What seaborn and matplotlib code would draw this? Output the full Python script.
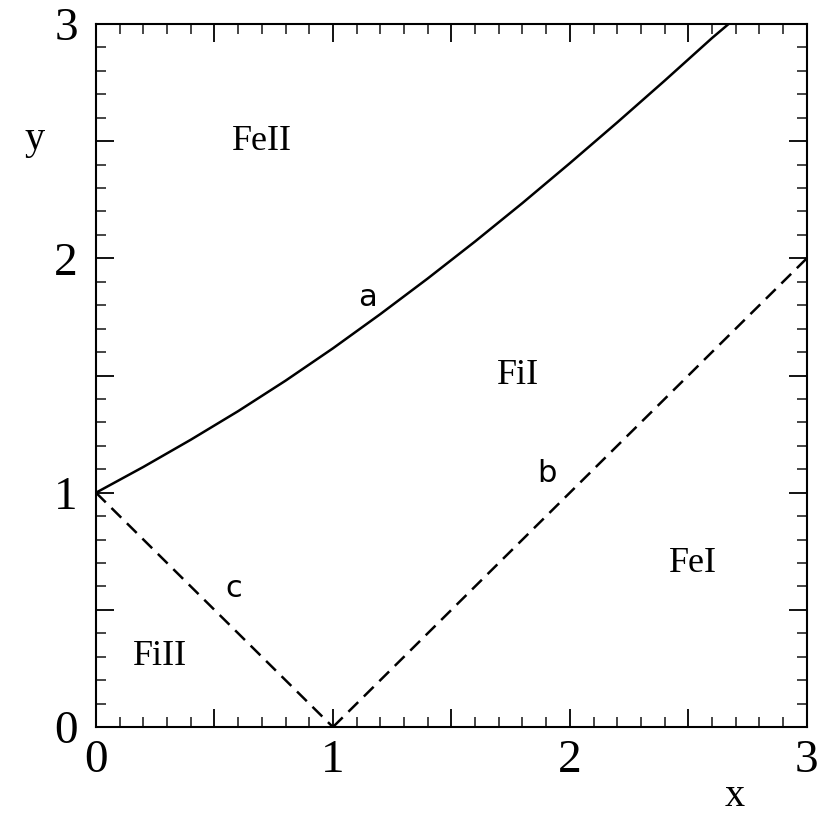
import matplotlib
matplotlib.use("Agg")
import matplotlib.pyplot as plt
import seaborn as sns
import pandas as pd
from matplotlib.ticker import MultipleLocator, FuncFormatter

# Phase boundaries
curve_a_x = [0.0, 0.2, 0.4, 0.6, 0.8, 1.0, 1.2, 1.4, 1.6, 1.8, 2.0, 2.2, 2.4, 2.6, 2.67]
curve_a_y = [1.0, 1.110, 1.226, 1.348, 1.478, 1.616, 1.762, 1.914, 2.072, 2.236,
             2.406, 2.580, 2.758, 2.940, 3.0]
curve_b_x = [1.0, 3.0]
curve_b_y = [0.0, 2.0]
curve_c_x = [0.0, 1.0]
curve_c_y = [1.0, 0.0]

# Region names and curve tags
region_names = ["FeII", "FiI", "FeI", "FiII"]
region_x = [0.70, 1.78, 2.52, 0.27]
region_y = [2.50, 1.50, 0.70, 0.30]
curve_tags = ["a", "b", "c"]
tag_x = [1.145, 1.905, 0.58]
tag_y = [1.835, 1.08, 0.593]

tick_values = [0, 1, 2, 3]
tick_labels = ["0", "1", "2", "3"]

sns.set_theme(style="white")
plt.rcParams["font.family"] = ["DejaVu Sans"]
plt.rcParams["text.color"] = "black"

fig = plt.figure(figsize=(8.17, 8.16), dpi=100)
ax = fig.add_axes([0.1175, 0.109, 0.870, 0.8616])

df_a = pd.DataFrame({"x": curve_a_x, "y": curve_a_y})
df_b = pd.DataFrame({"x": curve_b_x, "y": curve_b_y})
df_c = pd.DataFrame({"x": curve_c_x, "y": curve_c_y})

sns.lineplot(data=df_a, x="x", y="y", ax=ax, color="black", lw=1.8,
             sort=False, estimator=None)
sns.lineplot(data=df_b, x="x", y="y", ax=ax, color="black", lw=1.8,
             sort=False, estimator=None)
sns.lineplot(data=df_c, x="x", y="y", ax=ax, color="black", lw=1.8,
             sort=False, estimator=None)
lines = ax.get_lines()
lines[0].set_solid_joinstyle("round")
for line in lines[1:]:
    line.set_dashes((5.5, 3.2))

ax.set_xlim(0, 3)
ax.set_ylim(0, 3)

# Long ticks every half unit, labels on whole units only
label_map = dict(zip(tick_values, tick_labels))


def half_formatter(v, pos):
    r = round(v)
    return label_map.get(r, "") if abs(v - r) < 1e-6 else ""


for axis in (ax.xaxis, ax.yaxis):
    axis.set_major_locator(MultipleLocator(0.5))
    axis.set_minor_locator(MultipleLocator(0.1))
    axis.set_major_formatter(FuncFormatter(half_formatter))

ax.tick_params(which="major", direction="in", length=13, width=1.3,
               top=True, right=True, bottom=True, left=True,
               labelsize=34, colors="black")
ax.tick_params(axis="x", which="major", pad=9)
ax.tick_params(axis="y", which="major", pad=13)
ax.tick_params(which="minor", direction="in", length=7, width=1.2,
               top=True, right=True, bottom=True, left=True)

for lab in ax.get_xticklabels() + ax.get_yticklabels():
    lab.set_family("Liberation Serif")

for s in ax.spines.values():
    s.set_color("black")
    s.set_linewidth(1.5)

ax.set_xlabel("")
ax.set_ylabel("")
fig.text(735 / 817, 1 - 796 / 816, "x", fontsize=29, family="Liberation Serif",
         ha="center", va="center")
fig.text(35 / 817, 1 - 140 / 816, "y", fontsize=29, family="Liberation Serif",
         ha="center", va="center")

for name, x, y in zip(region_names, region_x, region_y):
    ax.text(x, y, name, fontsize=26, family="Liberation Serif",
            ha="center", va="center")
for tag, x, y in zip(curve_tags, tag_x, tag_y):
    ax.text(x, y, tag, fontsize=22, family="DejaVu Sans",
            ha="center", va="center")

fig.savefig("out.png", dpi=100, facecolor="white")
